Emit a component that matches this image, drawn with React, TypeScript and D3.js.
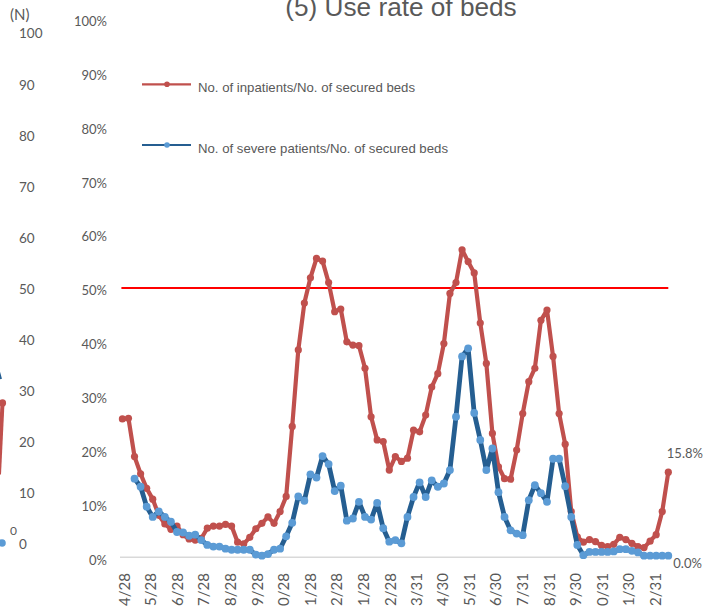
import React from "react";
import * as d3 from "d3";

const TITLE = "(5) Use rate of beds";
const SERIES_NAMES = [
  "No. of inpatients/No. of secured beds",
  "No. of severe patients/No. of secured beds",
];
const START_DATE = "2020-04-25";
const inpatientRate: number[] = [
  25.7, 25.8, 18.7, 15.5, 12.8, 10.8, 7.8, 6.2, 5.2, 5.8,
  4.2, 3.4, 3.2, 3.5, 5.4, 5.8, 5.8, 6.1, 5.8, 2.8,
  2.5, 3.7, 5.3, 6.3, 7.5, 6.3, 8.5, 11.3, 24.3, 38.5,
  47.2, 51.9, 55.5, 55.0, 51.0, 45.6, 46.1, 40.0, 39.4, 39.3,
  35.1, 26.1, 21.8, 21.5, 16.2, 18.7, 17.8, 18.4, 23.6, 23.3,
  26.4, 31.6, 34.1, 39.7, 49.0, 51.0, 57.1, 54.9, 52.8, 43.5,
  36.0, 23.0, 16.8, 14.6, 14.5, 19.9, 26.7, 32.6, 35.1, 44.0,
  45.9, 37.3, 26.7, 21.0, 8.5, 3.8, 2.8, 3.3, 2.9, 2.2,
  2.0, 2.4, 3.7, 3.3, 2.6, 2.0, 1.8, 3.0, 4.2, 8.5,
  15.8,
];
const severeRate: (number | null)[] = [
  null, null, 14.6, 13.1, 9.4, 7.5, 8.5, 7.5, 6.6, 4.7,
  4.6, 4.0, 4.2, 3.2, 2.3, 2.0, 2.0, 1.6, 1.4, 1.4,
  1.4, 1.4, 0.5, 0.3, 0.6, 1.4, 1.6, 3.9, 6.4, 11.3,
  10.5, 15.4, 14.8, 18.8, 17.3, 12.3, 13.3, 6.8, 7.2, 10.3,
  7.5, 7.0, 10.1, 5.4, 2.9, 3.2, 2.6, 7.5, 11.2, 13.9,
  11.2, 14.3, 13.1, 13.7, 16.2, 26.1, 37.3, 38.8, 26.8, 21.8,
  16.2, 20.2, 12.1, 7.5, 5.0, 4.4, 4.1, 10.6, 13.4, 11.9,
  10.3, 18.3, 18.3, 13.2, 7.5, 2.3, 0.4, 1.0, 1.0, 1.0,
  1.0, 1.1, 1.5, 1.5, 1.2, 0.9, 0.3, 0.3, 0.3, 0.3,
  0.3,
];
const tickDates = [
  "2020-04-28", "2020-05-28", "2020-06-28", "2020-07-28", "2020-08-28",
  "2020-09-28", "2020-10-28", "2020-11-28", "2020-12-28", "2021-01-28",
  "2021-02-28", "2021-03-31", "2021-04-30", "2021-05-31", "2021-06-30",
  "2021-07-31", "2021-08-31", "2021-09-30", "2021-10-31", "2021-11-30",
  "2021-12-31",
];
const pctTicks = [0, 10, 20, 30, 40, 50, 60, 70, 80, 90, 100];
const nTicks = [0, 10, 20, 30, 40, 50, 60, 70, 80, 90, 100];
const THRESHOLD = 50;
const endLabels = ["15.8%", "0.0%"];
// fragment of neighbouring chart at the left edge
const neighbourRed = [14, 28];
const neighbourBlue = [0.6];

const W = 709;
const H = 606;
const RED = "#C0504D";
const BLUE_LINE = "#255E91";
const BLUE_DOT = "#5B9BD5";
const GREY = "#595959";
const TICK_FONT = "Lato, 'Noto Sans', sans-serif";

const parse = (s: string) => {
  const [y, m, d] = s.split("-").map(Number);
  return new Date(y, m - 1, d);
};

export default function App() {
  const start = parse(START_DATE);
  const dates = inpatientRate.map((_, i) => d3.timeDay.offset(start, 7 * i));

  const x = d3
    .scaleTime()
    .domain([parse(tickDates[0]), parse(tickDates[tickDates.length - 1])])
    .range([125, 655.3]);
  const y = d3.scaleLinear().domain([0, 100]).range([557.3, 18.7]);
  const yN = d3.scaleLinear().domain([0, 100]).range([546, 35]);

  const redPts = inpatientRate.map((v, i) => ({ d: dates[i], v }));
  const bluePts = severeRate.map((v, i) => ({ d: dates[i], v }));

  const line = d3
    .line<{ d: Date; v: number | null }>()
    .defined((p) => p.v !== null)
    .x((p) => x(p.d))
    .y((p) => y(p.v as number));

  const xStart = x(dates[0]);
  const xEnd = x(dates[dates.length - 1]);
  const lastRed = redPts[redPts.length - 1];
  const lastBlue = bluePts[bluePts.length - 1];

  return (
    <svg
      width={W}
      height={H}
      style={{ position: "absolute", left: 0, top: 0, background: "#fff", overflow: "hidden" }}
    >
      <rect x={0} y={0} width={W} height={H} fill="#fff" />
      {/* title */}
      <text
        x={401}
        y={16}
        textAnchor="middle"
        fontFamily="'Liberation Sans', Arial, sans-serif"
        fontSize={26.2}
        fill={GREY}
      >
        {TITLE}
      </text>

      {/* fragment of neighbour chart */}
      <path
        d={`M${-1},${yN(neighbourRed[0])} L${2.5},${yN(neighbourRed[1])}`}
        stroke={RED}
        strokeWidth={4}
        fill="none"
      />
      <circle cx={2.5} cy={yN(neighbourRed[1])} r={3.6} fill={RED} />
      <path d="M-1,372 L1,379" stroke={BLUE_LINE} strokeWidth={2} />
      <circle cx={2} cy={yN(neighbourBlue[0])} r={3.8} fill={BLUE_DOT} />
      <text x={10} y={532} dominantBaseline="middle" fontFamily={TICK_FONT} fontSize={12} fill={GREY}>
        0
      </text>

      {/* (N) axis */}
      <text x={10} y={16} dominantBaseline="middle" fontFamily={TICK_FONT} fontSize={15} fill={GREY}>
        (N)
      </text>
      {nTicks.map((t) => (
        <text
          key={"n" + t}
          x={19}
          y={yN(t)}
          dominantBaseline="middle"
          fontFamily={TICK_FONT}
          fontSize={13.5}
          fill={GREY}
        >
          {t}
        </text>
      ))}

      {/* percent axis */}
      {pctTicks.map((t) => (
        <text
          key={"p" + t}
          x={107}
          y={y(t) + 4}
          textAnchor="end"
          dominantBaseline="middle"
          fontFamily={TICK_FONT}
          fontSize={13}
          fill={GREY}
        >
          {t + "%"}
        </text>
      ))}

      {/* baseline */}
      <line x1={120} x2={671} y1={y(0)} y2={y(0)} stroke="#D9D9D9" strokeWidth={1.5} />

      {/* x tick labels */}
      {tickDates.map((s) => {
        const dt = parse(s);
        const label = `${dt.getMonth() + 1}/${dt.getDate()}`;
        return (
          <text
            key={s}
            transform={`translate(${x(dt)},573) rotate(-90)`}
            textAnchor="end"
            dy="0.36em"
            fontFamily={TICK_FONT}
            fontSize={15}
            fill={GREY}
          >
            {label}
          </text>
        );
      })}

      {/* threshold line */}
      <line
        x1={xStart - 1}
        x2={xEnd}
        y1={y(THRESHOLD)}
        y2={y(THRESHOLD)}
        stroke="#FF0000"
        strokeWidth={2}
      />

      {/* red series */}
      <path d={line(redPts) || ""} fill="none" stroke={RED} strokeWidth={4.2} strokeLinejoin="round" />
      {redPts.map((p, i) => (
        <circle key={"r" + i} cx={x(p.d)} cy={y(p.v)} r={3.6} fill={RED} />
      ))}

      {/* blue series */}
      <path
        d={line(bluePts) || ""}
        fill="none"
        stroke={BLUE_LINE}
        strokeWidth={4.8}
        strokeLinejoin="round"
      />
      {bluePts
        .filter((p) => p.v !== null)
        .map((p, i) => (
          <circle key={"b" + i} cx={x(p.d)} cy={y(p.v as number)} r={3.9} fill={BLUE_DOT} />
        ))}

      {/* end labels */}
      <text
        x={x(lastRed.d) - 1.5}
        y={y(lastRed.v) - 17}
        dominantBaseline="middle"
        fontFamily={TICK_FONT}
        fontSize={13}
        fill={GREY}
      >
        {endLabels[0]}
      </text>
      <text
        x={x(lastBlue.d) + 5}
        y={y(lastBlue.v as number) + 9}
        dominantBaseline="middle"
        fontFamily={TICK_FONT}
        fontSize={13}
        fill={GREY}
      >
        {endLabels[1]}
      </text>

      {/* legend */}
      <g fontFamily="'Liberation Sans', Arial, sans-serif" fontSize={13.2} fill={GREY}>
        <line x1={142} x2={191} y1={84.3} y2={84.3} stroke={RED} strokeWidth={2.2} />
        <circle cx={167} cy={84.3} r={2.8} fill={RED} />
        <text x={198} y={92}>
          {SERIES_NAMES[0]}
        </text>
        <line x1={142} x2={191} y1={145} y2={145} stroke={BLUE_LINE} strokeWidth={2.2} />
        <circle cx={167} cy={145} r={2.8} fill={BLUE_DOT} />
        <text x={198} y={152.5}>
          {SERIES_NAMES[1]}
        </text>
      </g>
    </svg>
  );
}
